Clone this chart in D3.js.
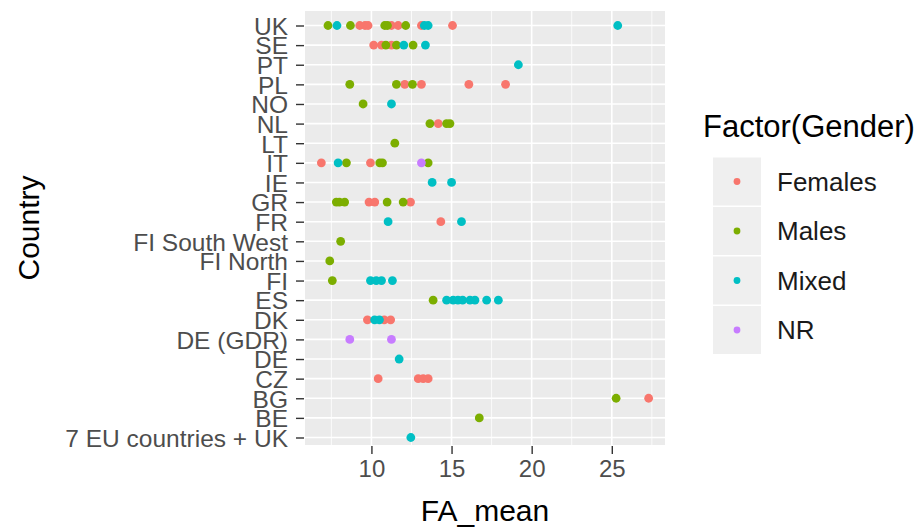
<!DOCTYPE html>
<html>
<head>
<meta charset="utf-8">
<script src="https://cdn.jsdelivr.net/npm/d3@7"></script>
<style>
  html, body { margin: 0; padding: 0; background: #fff; }
  svg { display: block; }
  text { font-family: "Liberation Sans", Arial, sans-serif; }
</style>
</head>
<body>
<div id="chart"></div>
<script>
// ---- Data ----
const countries = ["UK","SE","PT","PL","NO","NL","LT","IT","IE","GR","FR",
  "FI South West","FI North","FI","ES","DK","DE (GDR)","DE","CZ","BG","BE",
  "7 EU countries + UK"];
const xTicks = [10, 15, 20, 25];
const xMinorTicks = [7.5, 12.5, 17.5, 22.5, 27.5];
const groups = ["Females", "Males", "Mixed", "NR"];
const groupColors = ["#F8766D", "#7CAE00", "#00BFC4", "#C77CFF"];

const females = [
  ["UK", 9.27], ["UK", 9.6], ["UK", 9.79], ["UK", 11.25], ["UK", 11.67], ["UK", 13.12], ["UK", 15.06],
  ["SE", 10.14], ["SE", 10.63], ["SE", 11.25],
  ["PL", 12.08], ["PL", 13.12], ["PL", 16.08], ["PL", 18.37],
  ["NL", 14.17],
  ["IT", 6.875], ["IT", 9.94],
  ["GR", 9.85], ["GR", 10.21], ["GR", 12.44],
  ["FR", 14.33],
  ["DK", 9.75], ["DK", 10.8], ["DK", 11.2],
  ["CZ", 10.42], ["CZ", 12.92], ["CZ", 13.23], ["CZ", 13.54],
  ["BG", 27.3]
];
const males = [
  ["UK", 7.29], ["UK", 8.69], ["UK", 10.83], ["UK", 11.0], ["UK", 12.14],
  ["SE", 10.9], ["SE", 11.56], ["SE", 12.6],
  ["PL", 8.65], ["PL", 11.56], ["PL", 12.56],
  ["NO", 9.48],
  ["NL", 13.65], ["NL", 14.69], ["NL", 14.9],
  ["LT", 11.46],
  ["IT", 8.44], ["IT", 10.52], ["IT", 10.69], ["IT", 13.54],
  ["GR", 7.81], ["GR", 8.0], ["GR", 8.33], ["GR", 10.98], ["GR", 11.98],
  ["FI South West", 8.08],
  ["FI North", 7.4],
  ["FI", 7.56],
  ["ES", 13.85],
  ["BG", 25.27],
  ["BE", 16.73]
];
const mixed = [
  ["UK", 7.85], ["UK", 13.3], ["UK", 13.54], ["UK", 25.37],
  ["SE", 12.02], ["SE", 13.37],
  ["PT", 19.17],
  ["NO", 11.25],
  ["IT", 7.92],
  ["IE", 13.79], ["IE", 15.0],
  ["FR", 11.04], ["FR", 15.62],
  ["FI", 9.94], ["FI", 10.3], ["FI", 10.63], ["FI", 11.31],
  ["ES", 14.69], ["ES", 15.1], ["ES", 15.4], ["ES", 15.69], ["ES", 16.15], ["ES", 16.46], ["ES", 17.19], ["ES", 17.92],
  ["DK", 10.2], ["DK", 10.5],
  ["DE", 11.73],
  ["7 EU countries + UK", 12.46]
];
const nr = [
  ["IT", 13.12],
  ["DE (GDR)", 8.65], ["DE (GDR)", 11.25]
];
const seriesData = [females, males, mixed, nr];

// ---- Layout ----
const W = 921, H = 529;
const panel = { left: 305, right: 665, top: 11, bottom: 445 };

const svg = d3.select("#chart").append("svg")
  .attr("width", W).attr("height", H);

const x = d3.scaleLinear().domain([5.855, 28.32]).range([panel.left, panel.right]);
const y = d3.scalePoint().domain(countries).range([25.5, 437.5]);

// panel background
svg.append("rect")
  .attr("x", panel.left).attr("y", panel.top)
  .attr("width", panel.right - panel.left).attr("height", panel.bottom - panel.top)
  .attr("fill", "#EBEBEB");

const grid = svg.append("g");
grid.selectAll("line.minor").data(xMinorTicks.filter(v => x(v) < panel.right)).join("line")
  .attr("x1", d => x(d)).attr("x2", d => x(d))
  .attr("y1", panel.top).attr("y2", panel.bottom)
  .attr("stroke", "#fff").attr("stroke-width", 0.8);
grid.selectAll("line.majx").data(xTicks).join("line")
  .attr("x1", d => x(d)).attr("x2", d => x(d))
  .attr("y1", panel.top).attr("y2", panel.bottom)
  .attr("stroke", "#fff").attr("stroke-width", 1.6);
grid.selectAll("line.majy").data(countries).join("line")
  .attr("x1", panel.left).attr("x2", panel.right)
  .attr("y1", d => y(d)).attr("y2", d => y(d))
  .attr("stroke", "#fff").attr("stroke-width", 1.6);

// points
const pts = svg.append("g");
seriesData.forEach((arr, i) => {
  pts.append("g").selectAll("circle").data(arr).join("circle")
    .attr("cx", d => x(d[1]))
    .attr("cy", d => y(d[0]))
    .attr("r", 4.4)
    .attr("fill", groupColors[i]);
});

// x axis
const xAxis = d3.axisBottom(x).tickValues(xTicks).tickSize(8).tickPadding(6).tickFormat(d3.format("d"));
const gx = svg.append("g").attr("transform", `translate(0,${panel.bottom + 1})`).call(xAxis);
gx.select(".domain").remove();
gx.selectAll(".tick line").attr("stroke", "#333").attr("stroke-width", 1.4);
gx.selectAll(".tick text").attr("fill", "#4D4D4D").style("font-size", "24px")
  .attr("font-family", "Liberation Sans, Arial, sans-serif").attr("dy", "0.71em");

// y axis
const yAxis = d3.axisLeft(y).tickSize(8).tickPadding(8);
const gy = svg.append("g").attr("transform", `translate(${panel.left - 1},0)`).call(yAxis);
gy.select(".domain").remove();
gy.selectAll(".tick line").attr("stroke", "#333").attr("stroke-width", 1.4);
gy.selectAll(".tick text").attr("fill", "#4D4D4D").style("font-size", "24.5px")
  .attr("font-family", "Liberation Sans, Arial, sans-serif").attr("dy", "0.36em");

// axis titles
svg.append("text").attr("x", (panel.left + panel.right) / 2).attr("y", 521)
  .attr("text-anchor", "middle").style("font-size", "30px").attr("fill", "#000")
  .text("FA_mean");
svg.append("text")
  .attr("transform", `translate(39,${(panel.top + panel.bottom) / 2}) rotate(-90)`)
  .attr("text-anchor", "middle").style("font-size", "30px").attr("fill", "#000")
  .text("Country");

// legend
const lg = svg.append("g");
lg.append("text").attr("x", 703).attr("y", 137).style("font-size", "31px").attr("fill", "#000")
  .text("Factor(Gender)");
const keyH = 49.5, keyTop = 157.5;
groups.forEach((g, i) => {
  const ky = keyTop + i * keyH;
  lg.append("rect").attr("x", 713).attr("y", ky).attr("width", 48).attr("height", keyH - 1.5)
    .attr("fill", "#EFEFEF");
  lg.append("circle").attr("cx", 737).attr("cy", ky + (keyH - 1.5) / 2).attr("r", 3.4)
    .attr("fill", groupColors[i]);
  lg.append("text").attr("x", 777).attr("y", ky + (keyH - 1.5) / 2).attr("dy", "0.36em")
    .style("font-size", "26px").attr("fill", "#1A1A1A").text(g);
});
</script>
</body>
</html>
